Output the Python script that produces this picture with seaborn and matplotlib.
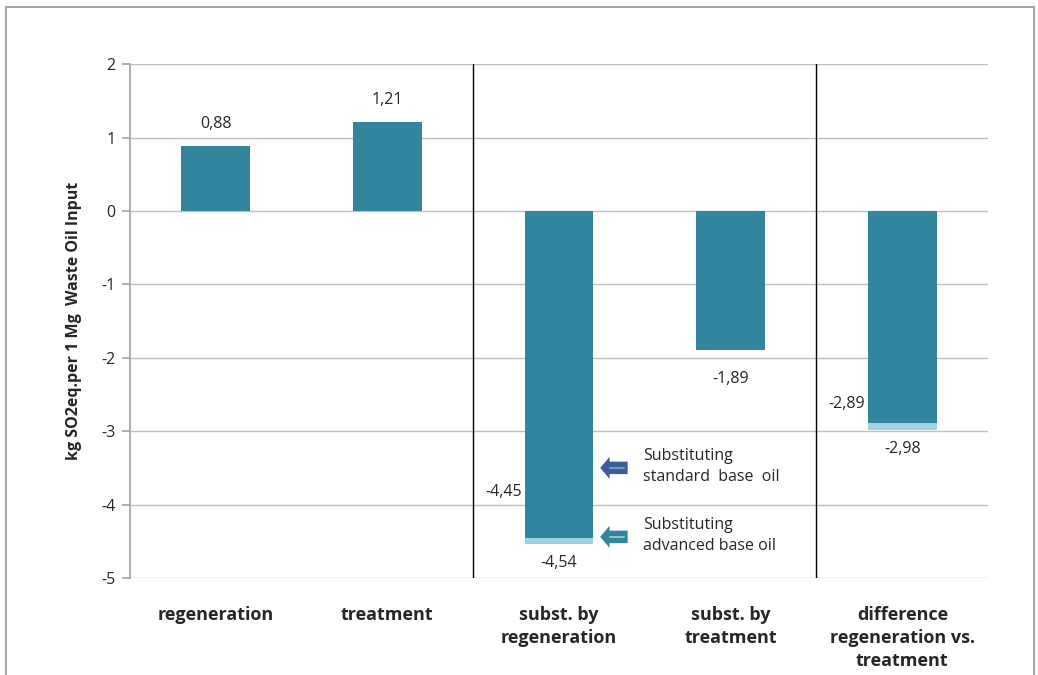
import matplotlib
matplotlib.use("Agg")
import matplotlib.pyplot as plt
import seaborn as sns
import pandas as pd
from matplotlib.patches import Rectangle, FancyArrow

categories = ["regeneration", "treatment", "subst. by\nregeneration", "subst. by\ntreatment",
              "difference\nregeneration vs.\ntreatment"]
standard = [0.88, 1.21, -4.45, -1.89, -2.89]
advanced = [0.88, 1.21, -4.54, -1.89, -2.98]
std_labels = ["0,88", "1,21", "-4,45", "-1,89", "-2,89"]
adv_labels = ["", "", "-4,54", "", "-2,98"]
legend_labels = ["Substituting\nstandard  base  oil", "Substituting\nadvanced base oil"]

sns.set_theme(style="white")
plt.rcParams['font.family'] = ['Open Sans', 'DejaVu Sans']

dark = "#31859C"
light = "#9DD3E3"

df = pd.DataFrame({"cat": categories, "standard": standard, "advanced": advanced})

fig = plt.figure(figsize=(10.38, 6.75), dpi=100)
ax = fig.add_axes([0.125, 0.1437, 0.827, 0.7613])

sns.barplot(data=df, x="cat", y="advanced", color=light, width=0.4, saturation=1, ax=ax,
            zorder=2, linewidth=0)
sns.barplot(data=df, x="cat", y="standard", color=dark, width=0.4, saturation=1, ax=ax,
            zorder=3, linewidth=0)

ax.set_xlim(-0.5, 4.5)
ax.set_ylim(-5, 2)
ax.set_yticks(range(-5, 3))
ax.set_yticklabels([str(v) for v in range(-5, 3)], fontsize=11.5)
ax.yaxis.grid(True, color="#BFBFBF", linewidth=1, zorder=0)
ax.set_axisbelow(True)
for s in ["top", "right", "bottom"]:
    ax.spines[s].set_visible(False)
ax.spines["left"].set_color("#A6A6A6")
ax.tick_params(axis="y", left=True, length=6, color="#A6A6A6", pad=4)
ax.tick_params(axis="x", bottom=False, pad=14)
ax.set_xticks(range(5))
ax.set_xticklabels(categories, fontsize=13, fontweight="bold", linespacing=1.35, va="top")
ax.set_xlabel("")
ax.set_ylabel("kg SO2eq.per 1 Mg  Waste Oil Input", fontsize=11.5, fontweight="bold", labelpad=14)

for xv in [1.5, 3.5]:
    ax.axvline(xv, color="black", linewidth=1, zorder=4)

# value labels
fs = 11.5
for i in range(5):
    s = standard[i]
    if s > 0:
        ax.text(i, s + 0.3, std_labels[i], ha="center", va="center", fontsize=fs)
    elif adv_labels[i]:
        ax.text(i - 0.215, s + (0.62 if i == 2 else 0.26), std_labels[i], ha="right", va="center", fontsize=fs)
        ax.text(i, advanced[i] - 0.26, adv_labels[i], ha="center", va="center", fontsize=fs)
    else:
        ax.text(i, s - 0.4, std_labels[i], ha="center", va="center", fontsize=fs)

# legend-like arrows
for yv, col, lcol, lab in [(-3.50, "#3B5E93", "#7FA6D6", legend_labels[0]),
                           (-4.44, dark, "#9DD3E3", legend_labels[1])]:
    ax.add_patch(FancyArrow(2.40, yv, -0.16, 0, width=0.17, head_width=0.3, head_length=0.055,
                            length_includes_head=True, color=col, zorder=5, linewidth=0))
    ax.plot([2.30, 2.38], [yv, yv], color=lcol, lw=1.2, zorder=6)
    ax.text(2.49, yv + 0.02, lab, ha="left", va="center", fontsize=11.5, linespacing=1.45)

fig.patches.append(Rectangle((0.006, -0.01), 0.99, 1.0, transform=fig.transFigure,
                             fill=False, edgecolor="#A6A6A6", linewidth=1.5))

fig.savefig("out.png", dpi=100)
